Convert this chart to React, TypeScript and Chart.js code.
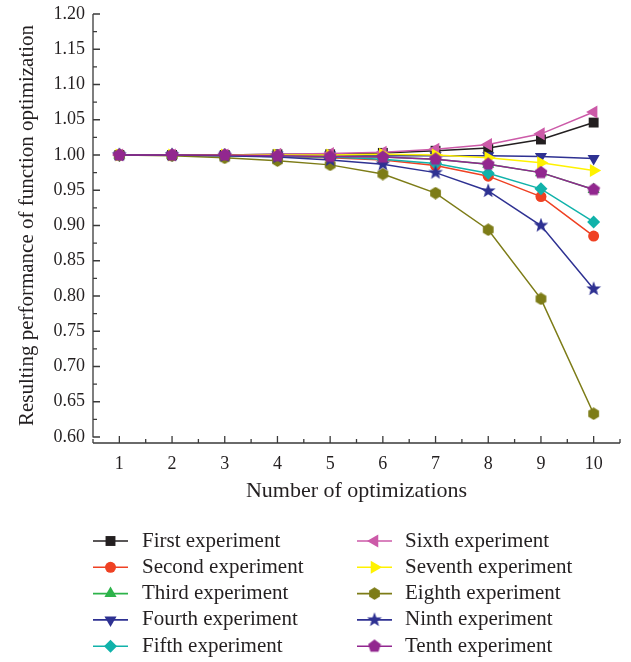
import React, { useEffect, useRef } from 'react';
import { Chart, registerables } from 'chart.js';
import { drawPoint } from 'chart.js/helpers';

Chart.register(...registerables);

// Number of optimizations (x categories)
const optimizations = ['1', '2', '3', '4', '5', '6', '7', '8', '9', '10'];

// Resulting performance for each experiment
const firstExp = [1.0, 1.0, 1.0, 1.001, 1.001, 1.003, 1.006, 1.010, 1.022, 1.046];
const secondExp = [1.0, 1.0, 0.999, 0.998, 0.996, 0.993, 0.985, 0.970, 0.941, 0.885];
const thirdExp = [1.0, 1.0, 1.0, 0.999, 0.998, 0.997, 0.994, 0.987, 0.975, 0.951];
const fourthExp = [1.0, 1.0, 1.0, 1.0, 1.0, 0.999, 0.999, 0.999, 0.998, 0.995];
const fifthExp = [1.0, 1.0, 0.999, 0.998, 0.997, 0.994, 0.988, 0.974, 0.952, 0.905];
const sixthExp = [1.0, 1.0, 1.0, 1.001, 1.002, 1.004, 1.008, 1.015, 1.030, 1.061];
const seventhExp = [1.0, 1.0, 1.0, 1.0, 1.0, 1.001, 1.0, 0.996, 0.989, 0.978];
const eighthExp = [1.0, 0.999, 0.996, 0.992, 0.986, 0.973, 0.946, 0.894, 0.796, 0.633];
const ninthExp = [1.0, 1.0, 0.999, 0.997, 0.993, 0.987, 0.975, 0.949, 0.900, 0.810];
const tenthExp = [1.0, 1.0, 1.0, 0.999, 0.998, 0.997, 0.994, 0.987, 0.975, 0.951];

const seriesNames = [
  'First experiment', 'Second experiment', 'Third experiment', 'Fourth experiment', 'Fifth experiment',
  'Sixth experiment', 'Seventh experiment', 'Eighth experiment', 'Ninth experiment', 'Tenth experiment',
];
const seriesValues = [firstExp, secondExp, thirdExp, fourthExp, fifthExp, sixthExp, seventhExp, eighthExp, ninthExp, tenthExp];
const seriesColors = [
  '#231f20', '#ef4123', '#2db34a', '#2e3192', '#11b2aa',
  '#cc5aa8', '#fff200', '#7d7c17', '#2e3192', '#92278f',
];

// y axis range and tick step
const Y_MIN = 0.6;
const Y_MAX = 1.2;
const Y_STEP = 0.05;

const SERIF = "'Liberation Serif', 'Times New Roman', serif";
const INK = '#231f20';

function polygonMarker(sides: number, color: string, size: number, star = false): HTMLCanvasElement {
  const c = document.createElement('canvas');
  c.width = size;
  c.height = size;
  const g = c.getContext('2d')!;
  const cx = size / 2;
  const cy = size / 2;
  const r = size / 2 - 0.3;
  const n = star ? sides * 2 : sides;
  g.beginPath();
  for (let i = 0; i < n; i++) {
    const rr = star && i % 2 === 1 ? r * 0.42 : r;
    const a = -Math.PI / 2 + (i * 2 * Math.PI) / n;
    const px = cx + rr * Math.cos(a);
    const py = cy + rr * Math.sin(a);
    if (i === 0) g.moveTo(px, py);
    else g.lineTo(px, py);
  }
  g.closePath();
  g.fillStyle = color;
  g.fill();
  return c;
}

type MarkerDef = { pointStyle: any; radius: number; rotation: number };

function buildMarkers(): MarkerDef[] {
  return [
    { pointStyle: 'rect', radius: 7, rotation: 0 },
    { pointStyle: 'circle', radius: 5.5, rotation: 0 },
    { pointStyle: 'triangle', radius: 7, rotation: 0 },
    { pointStyle: 'triangle', radius: 7, rotation: 180 },
    { pointStyle: 'rectRot', radius: 6.5, rotation: 0 },
    { pointStyle: 'triangle', radius: 7.5, rotation: 270 },
    { pointStyle: 'triangle', radius: 7.5, rotation: 90 },
    { pointStyle: polygonMarker(6, seriesColors[7], 13), radius: 6, rotation: 0 },
    { pointStyle: polygonMarker(5, seriesColors[8], 16, true), radius: 6, rotation: 0 },
    { pointStyle: polygonMarker(5, seriesColors[9], 14), radius: 6, rotation: 0 },
  ];
}

// Origin-style axes: inward major/minor ticks, x axis set slightly below the plot
const axesPlugin = {
  id: 'originAxes',
  beforeDatasetsDraw(chart: any) {
    const { ctx, chartArea } = chart;
    const xs = chart.scales.x;
    const ys = chart.scales.y;
    ctx.save();
    ctx.strokeStyle = '#3a3a3a';
    ctx.lineWidth = 1.3;
    const left = chartArea.left;
    ctx.beginPath();
    ctx.moveTo(left, ys.getPixelForValue(Y_MAX));
    ctx.lineTo(left, ys.getPixelForValue(Y_MIN) + 0.5);
    const nY = Math.round((Y_MAX - Y_MIN) / (Y_STEP / 2));
    for (let i = 0; i <= nY; i++) {
      const py = ys.getPixelForValue(Y_MIN + (i * Y_STEP) / 2);
      const len = i % 2 === 0 ? 7 : 4;
      ctx.moveTo(left, py);
      ctx.lineTo(left + len, py);
    }
    const by = chartArea.bottom + 6;
    ctx.moveTo(xs.getPixelForValue(-0.5), by);
    ctx.lineTo(xs.getPixelForValue(optimizations.length - 0.5), by);
    for (let k = 0; k <= optimizations.length * 2; k++) {
      const px = xs.getPixelForValue(-0.5 + k * 0.5);
      const len = k % 2 === 1 ? 7 : 4;
      ctx.moveTo(px, by);
      ctx.lineTo(px, by - len);
    }
    ctx.stroke();
    ctx.restore();
  },
};

function makeLegendPlugin(markers: MarkerDef[]) {
  return {
    id: 'twoColumnLegend',
    afterDraw(chart: any) {
      const { ctx } = chart;
      const rowY0 = 541;
      const rowGap = 26.3;
      const cols = [
        { lineX0: 93, lineX1: 128, textX: 142 },
        { lineX0: 357, lineX1: 392, textX: 405 },
      ];
      ctx.save();
      for (let i = 0; i < seriesNames.length; i++) {
        const col = cols[Math.floor(i / 5)];
        const y = rowY0 + (i % 5) * rowGap;
        const color = seriesColors[i];
        ctx.strokeStyle = color;
        ctx.lineWidth = 1.6;
        ctx.beginPath();
        ctx.moveTo(col.lineX0, y);
        ctx.lineTo(col.lineX1, y);
        ctx.stroke();
        ctx.fillStyle = color;
        ctx.strokeStyle = color;
        const m = markers[i];
        drawPoint(ctx, { pointStyle: m.pointStyle, radius: m.radius, rotation: m.rotation, borderWidth: 0 }, (col.lineX0 + col.lineX1) / 2, y);
        ctx.fillStyle = INK;
        ctx.font = `21px ${SERIF}`;
        ctx.textBaseline = 'middle';
        ctx.textAlign = 'left';
        ctx.fillText(seriesNames[i], col.textX, y);
      }
      ctx.restore();
    },
  };
}

export default function App() {
  const canvasRef = useRef<HTMLCanvasElement | null>(null);

  useEffect(() => {
    const canvas = canvasRef.current;
    if (!canvas) return;
    const markers = buildMarkers();
    const datasets = seriesValues.map((vals, i) => ({
      label: seriesNames[i],
      data: vals,
      borderColor: seriesColors[i],
      backgroundColor: seriesColors[i],
      borderWidth: 1.5,
      pointStyle: markers[i].pointStyle,
      pointRadius: markers[i].radius,
      pointRotation: markers[i].rotation,
      pointBorderWidth: 0,
      pointBackgroundColor: seriesColors[i],
      pointBorderColor: seriesColors[i],
      tension: 0,
      fill: false,
      order: seriesNames.length - i,
    }));

    const chart = new Chart(canvas, {
      type: 'line',
      data: { labels: optimizations, datasets },
      options: {
        responsive: false,
        animation: false,
        devicePixelRatio: 1,
        layout: { padding: { left: 0, right: 11, top: 14, bottom: 152 } },
        plugins: {
          legend: { display: false },
          tooltip: { enabled: false },
        },
        scales: {
          x: {
            type: 'category',
            offset: true,
            grid: { display: false, drawTicks: false },
            border: { display: false },
            ticks: { color: INK, font: { family: SERIF, size: 18 }, padding: 16, maxRotation: 0, autoSkip: false },
            title: {
              display: true,
              text: 'Number of optimizations',
              color: INK,
              font: { family: SERIF, size: 22 },
              padding: { top: 0, bottom: 6 },
            },
            afterFit(scale: any) {
              scale.height = 73;
              scale.paddingLeft = 0;
              scale.paddingRight = 0;
            },
          },
          y: {
            min: Y_MIN,
            max: Y_MAX,
            grid: { display: false, drawTicks: false },
            border: { display: false },
            ticks: {
              stepSize: Y_STEP,
              color: INK,
              font: { family: SERIF, size: 18 },
              padding: 8,
              callback: (v: any) => Number(v).toFixed(2),
            },
            title: {
              display: true,
              text: 'Resulting performance of function optimization',
              color: INK,
              font: { family: SERIF, size: 21 },
              padding: { top: 15, bottom: 0 },
            },
            afterFit(scale: any) {
              scale.width = 93;
              scale.paddingTop = 0;
              scale.paddingBottom = 0;
            },
          },
        },
      },
      plugins: [axesPlugin, makeLegendPlugin(markers)],
    } as any);

    return () => chart.destroy();
  }, []);

  return (
    <div style={{ position: 'absolute', left: 0, top: 0, width: 631, height: 662, background: '#ffffff' }}>
      <canvas ref={canvasRef} width={631} height={662} style={{ display: 'block' }} />
    </div>
  );
}
